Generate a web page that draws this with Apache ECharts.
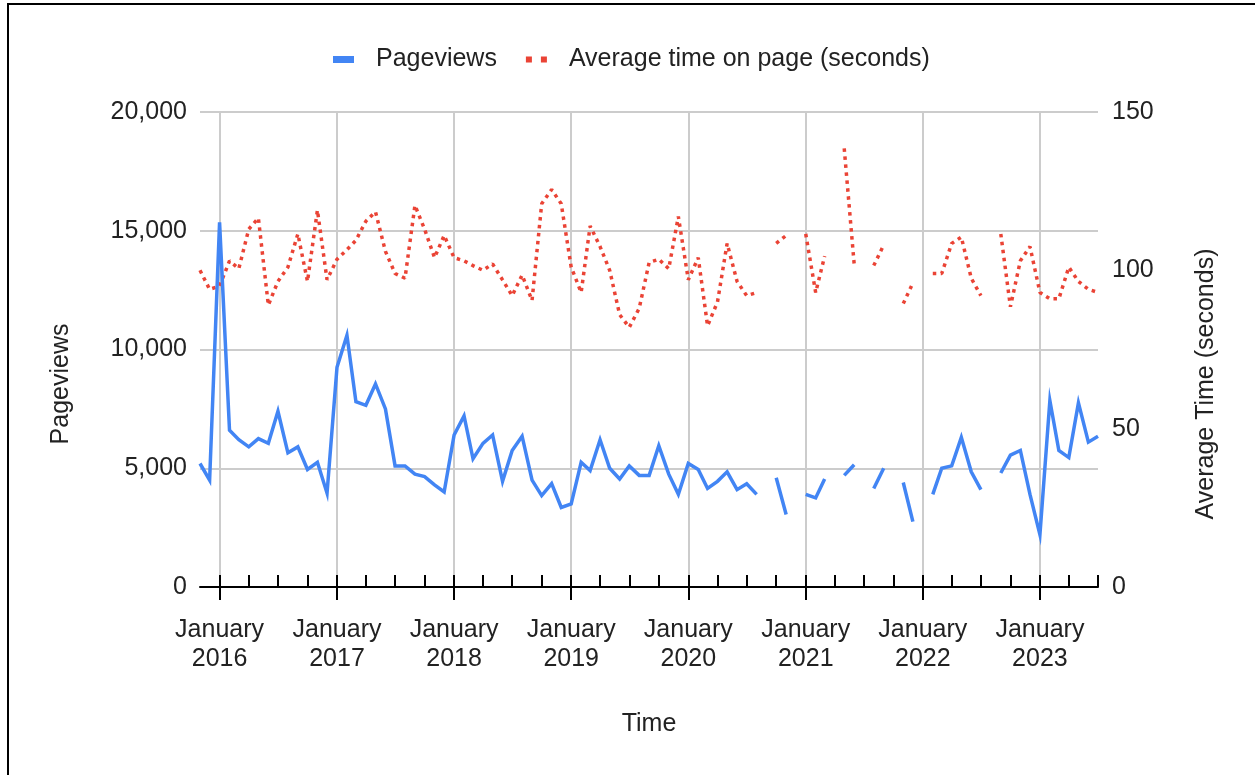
<!DOCTYPE html>
<html>
<head>
<meta charset="utf-8">
<script src="https://cdn.jsdelivr.net/npm/echarts@6/dist/echarts.min.js"></script>
<style>
  html, body { margin: 0; padding: 0; background: #fff; }
  #chart { width: 1255px; height: 775px; }
</style>
</head>
<body>
<div id="chart"></div>
<script>
// Monthly site statistics, Nov 2015 – Jul 2023 (null = month not recorded)
const months = [
  '2015-11', '2015-12',
  '2016-01', '2016-02', '2016-03', '2016-04', '2016-05', '2016-06', '2016-07', '2016-08', '2016-09', '2016-10', '2016-11', '2016-12',
  '2017-01', '2017-02', '2017-03', '2017-04', '2017-05', '2017-06', '2017-07', '2017-08', '2017-09', '2017-10', '2017-11', '2017-12',
  '2018-01', '2018-02', '2018-03', '2018-04', '2018-05', '2018-06', '2018-07', '2018-08', '2018-09', '2018-10', '2018-11', '2018-12',
  '2019-01', '2019-02', '2019-03', '2019-04', '2019-05', '2019-06', '2019-07', '2019-08', '2019-09', '2019-10', '2019-11', '2019-12',
  '2020-01', '2020-02', '2020-03', '2020-04', '2020-05', '2020-06', '2020-07', '2020-08', '2020-09', '2020-10', '2020-11', '2020-12',
  '2021-01', '2021-02', '2021-03', '2021-04', '2021-05', '2021-06', '2021-07', '2021-08', '2021-09', '2021-10', '2021-11', '2021-12',
  '2022-01', '2022-02', '2022-03', '2022-04', '2022-05', '2022-06', '2022-07', '2022-08', '2022-09', '2022-10', '2022-11', '2022-12',
  '2023-01', '2023-02', '2023-03', '2023-04', '2023-05', '2023-06', '2023-07'
];

const pageviews = [
  5200, 4500,
  15350, 6600, 6200, 5900, 6250, 6050, 7400, 5650, 5900, 4950, 5250, 3950,
  9250, 10600, 7800, 7650, 8550, 7500, 5100, 5100, 4750, 4650, 4300, 4000,
  6400, 7200, 5400, 6050, 6400, 4450, 5750, 6350, 4500, 3850, 4350, 3350,
  3500, 5250, 4900, 6200, 5000, 4550, 5100, 4700, 4700, 5950, 4750, 3900,
  5200, 4950, 4150, 4450, 4850, 4100, 4350, 3900, null, 4600, 3050, null,
  3900, 3750, 4550, null, 4700, 5150, null, 4150, 5000, null, 4400, 2750,
  null, 3900, 5000, 5100, 6300, 4850, 4100, null, 4800, 5550, 5750, 3900,
  2200, 7850, 5750, 5450, 7750, 6100, 6350
];

const avgTimeOnPage = [
  100, 94,
  95, 103, 100.5, 113, 116.5, 89, 96.5, 101, 111.5, 96.5, 119, 97,
  103.5, 106.5, 109.5, 115.5, 118.5, 106, 99, 97.5, 120.5, 113, 104, 111,
  104, 103, 101.5, 100, 102, 97, 92, 98.5, 90.5, 121, 125.5, 121,
  101, 93, 114, 107.5, 100, 86, 82, 88, 102.5, 103.5, 100.5, 117,
  97, 104, 82.5, 90, 108.5, 96.5, 92, 93, null, 108.5, 111, null,
  111.5, 93, 104.5, null, 138.5, 102, null, 101.5, 108, null, 89.5, 96,
  null, 99, 99, 108.5, 110.5, 97.5, 92, null, 111.5, 88.5, 103, 107.5,
  93, 91, 91, 101, 96.5, 94, 93
];

// Axis ticks
const yearTicks = ['2016-01', '2017-01', '2018-01', '2019-01', '2020-01', '2021-01', '2022-01', '2023-01'];
const pageviewTicks = [0, 5000, 10000, 15000, 20000];
const secondsTicks = [0, 50, 100, 150];

const MONTH_NAMES = ['January', 'February', 'March', 'April', 'May', 'June', 'July',
  'August', 'September', 'October', 'November', 'December'];

// Dates are placed on a linear millisecond scale so month lengths are respected
function toTime(m) {
  const [y, mo] = m.split('-').map(Number);
  return Date.UTC(y, mo - 1, 1);
}

const xs = months.map(toTime);
const xMin = xs[0];
const xMax = xs[xs.length - 1];
const quarterTicks = months.filter(m => [1, 4, 7, 10].includes(+m.split('-')[1])).map(toTime);
const januaryTicks = yearTicks.map(toTime);

const FONT = '"Liberation Sans", Arial, sans-serif';
const FS = 25;
const TEXT = '#222222';
const GRID = '#cccccc';
const BLUE = '#4285f4';
const RED = '#ea4335';

// vertical axis titles sit a little below the plot's midpoint
const VERTICAL_TITLE_PAD = [0, 69, 0, 0];

const chart = echarts.init(document.getElementById('chart'), null, { renderer: 'canvas' });

chart.setOption({
  animation: false,
  backgroundColor: '#ffffff',
  textStyle: { fontFamily: FONT },
  graphic: [{
    type: 'polyline',
    shape: { points: [[8, 775], [8, 4], [1255, 4]] },
    style: { stroke: '#000', lineWidth: 2, fill: null },
    silent: true
  }],
  legend: {
    left: 333,
    top: 47,
    padding: 0,
    itemWidth: 21,
    itemHeight: 7,
    itemGap: 29,
    selectedMode: false,
    itemStyle: { borderWidth: 0 },
    textStyle: { fontSize: FS, color: TEXT, fontFamily: FONT, padding: [0, 0, 0, 17] },
    data: [
      { name: 'Pageviews', icon: 'rect' },
      { name: 'Average time on page (seconds)', icon: 'path://M0,0h6v6h-6zM15,0h6v6h-6z' }
    ]
  },
  grid: { left: 200, right: 157, top: 112, bottom: 188, containLabel: false },
  xAxis: [{
    // quarterly ticks rising from the baseline
    type: 'value',
    min: xMin,
    max: xMax,
    position: 'bottom',
    axisLine: { show: true, onZero: false, lineStyle: { color: '#000', width: 2 } },
    axisTick: { show: true, inside: true, length: 12, lineStyle: { color: '#000', width: 2 }, customValues: quarterTicks },
    axisLabel: { show: false },
    splitLine: { show: false }
  }, {
    // yearly ticks, labels and gridlines
    type: 'value',
    min: xMin,
    max: xMax,
    position: 'bottom',
    name: 'Time',
    nameLocation: 'middle',
    nameGap: 125,
    nameTextStyle: { fontSize: FS, color: TEXT, fontFamily: FONT },
    axisLine: { show: false, onZero: false },
    axisTick: { show: true, inside: false, length: 13, lineStyle: { color: '#000', width: 2 }, customValues: januaryTicks },
    axisLabel: {
      customValues: januaryTicks,
      fontSize: FS,
      lineHeight: 29,
      color: TEXT,
      fontFamily: FONT,
      margin: 29,
      hideOverlap: false,
      formatter: function (v) {
        const d = new Date(v);
        return MONTH_NAMES[d.getUTCMonth()] + '\n' + d.getUTCFullYear();
      }
    },
    splitLine: { show: true, lineStyle: { color: GRID, width: 2 } }
  }],
  yAxis: [{
    type: 'value',
    position: 'left',
    min: pageviewTicks[0],
    max: pageviewTicks[pageviewTicks.length - 1],
    interval: pageviewTicks[1] - pageviewTicks[0],
    name: 'Pageviews',
    nameLocation: 'middle',
    nameGap: 126,
    nameRotate: 90,
    nameTextStyle: { fontSize: FS, color: TEXT, fontFamily: FONT, padding: VERTICAL_TITLE_PAD },
    axisLine: { show: false },
    axisTick: { show: false },
    axisLabel: {
      fontSize: FS, color: TEXT, fontFamily: FONT, margin: 13,
      formatter: v => v.toLocaleString('en-US')
    },
    splitLine: { show: true, lineStyle: { color: GRID, width: 2 } }
  }, {
    type: 'value',
    position: 'right',
    min: secondsTicks[0],
    max: secondsTicks[secondsTicks.length - 1],
    interval: secondsTicks[1] - secondsTicks[0],
    name: 'Average Time (seconds)',
    nameLocation: 'middle',
    nameGap: 96,
    nameRotate: 90,
    nameTextStyle: { fontSize: FS, color: TEXT, fontFamily: FONT, padding: VERTICAL_TITLE_PAD },
    axisLine: { show: false },
    axisTick: { show: false },
    axisLabel: { fontSize: FS, color: TEXT, fontFamily: FONT, margin: 14 },
    splitLine: { show: false }
  }],
  series: [{
    name: 'Pageviews',
    type: 'line',
    xAxisIndex: 0,
    yAxisIndex: 0,
    color: BLUE,
    showSymbol: false,
    connectNulls: false,
    lineStyle: { color: BLUE, width: 3.5, join: 'miter' },
    emphasis: { disabled: true },
    data: xs.map((x, i) => [x, pageviews[i]]),
    z: 3
  }, {
    name: 'Average time on page (seconds)',
    type: 'line',
    xAxisIndex: 0,
    yAxisIndex: 1,
    color: RED,
    showSymbol: false,
    connectNulls: false,
    lineStyle: { color: RED, width: 3.5, type: [3.5, 4.5], cap: 'butt' },
    emphasis: { disabled: true },
    data: xs.map((x, i) => [x, avgTimeOnPage[i]]),
    z: 2
  }]
});
</script>
</body>
</html>
